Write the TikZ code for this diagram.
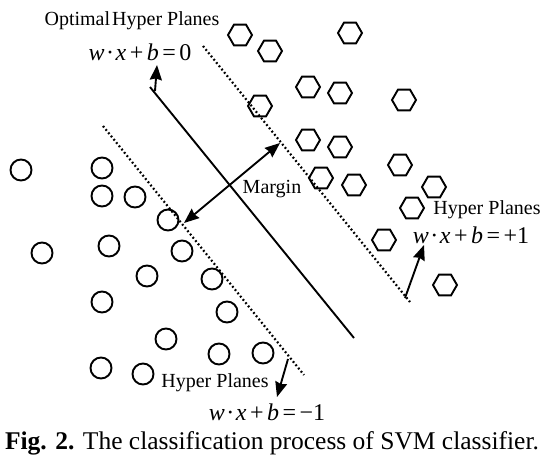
\documentclass[tikz,border=0pt]{standalone}
\usepackage{fontspec}
\setmainfont{Liberation Serif}
\usetikzlibrary{shapes.geometric,arrows.meta}
\tikzset{
  cls/.style={circle,draw,line width=1.9pt,minimum size=21pt,inner sep=0pt},
  hexa/.style={regular polygon,regular polygon sides=6,draw,line width=1.9pt,minimum size=24pt,inner sep=0pt},
  hplane/.style={line width=2.2pt,dash pattern=on 1.8pt off 2.4pt},
  optline/.style={line width=1.9pt},
  vec/.style={line width=1.9pt,-{Stealth[length=15pt,width=12pt,inset=1.5pt]}},
  lbl/.style={inner sep=0pt,font=\fontsize{20}{22}\selectfont},
  eqn/.style={inner sep=0pt,font=\fontsize{24}{26}\selectfont},
}
\newcommand{\wxb}{\textit{w}\kern1.5pt·\kern1.5pt\textit{x}\kern3.5pt+\kern3.5pt\textit{b}\kern3.5pt=\kern3.5pt}
\begin{document}
\begin{tikzpicture}[x=1pt,y=-1pt]
\useasboundingbox (0,0) rectangle (544,460);
% circles
\foreach \n/\p in {c1/{(21,170)},c2/{(102,168)},c3/{(102,196)},c4/{(135,197)},c5/{(168,220)},
  c6/{(42,253)},c7/{(109,246)},c8/{(182,251)},c9/{(147,276)},c10/{(212,279)},
  c11/{(102,302)},c12/{(227,312)},c13/{(166,339)},c14/{(219,354)},c15/{(263,353)},
  c16/{(101,368)},c17/{(143,374)}}
  \node[cls] (\n) at \p {};
% hexagons
\foreach \n/\p in {h1/{(240,35)},h2/{(270,51)},h3/{(350,33)},h4/{(260,106)},h5/{(308,87)},
  h6/{(340,93)},h7/{(404,100)},h8/{(308,140)},h9/{(340,147)},h10/{(400,165)},
  h11/{(321,178)},h12/{(354,185)},h13/{(434,187)},h14/{(412,208)},h15/{(384,240)},
  h16/{(445,285)}}
  \node[hexa] (\n) at \p {};
% hyperplanes
\coordinate (opA) at (150,87);
\coordinate (opB) at (354,338);
\coordinate (upA) at (203,46);
\coordinate (upB) at (410,302);
\coordinate (loA) at (103,126);
\coordinate (loB) at (304,375);
\draw[optline] (opA) -- (opB);
\draw[hplane] (upA) -- (upB);
\draw[hplane] (loA) -- (loB);
% normal vectors
\coordinate (n0s) at (155,91);
\coordinate (n0e) at (157,65);
\draw[vec] (n0s) -- (n0e);
\coordinate (n1s) at (405,298);
\coordinate (n1e) at (424,245);
\draw[vec] (n1s) -- (n1e);
\coordinate (n2s) at (288,359);
\coordinate (n2e) at (277,397);
\draw[vec] (n2s) -- (n2e);
% margin
\coordinate (mA) at (184,223);
\coordinate (mB) at (280,143);
\draw[line width=1.9pt,{Stealth[length=15pt,width=12pt,inset=1.5pt]}-{Stealth[length=15pt,width=12pt,inset=1.5pt]}] (mA) -- (mB);
% labels
\node[lbl] (t0) at (132,21) {Optimal\kern2pt Hyper Planes};
\node[eqn] (e0) at (140,52) {\wxb 0};
\node[lbl] (tm) at (272,189) {Margin};
\node[lbl] (t1) at (487,210) {Hyper Planes};
\node[eqn] (e1) at (471,235) {\wxb +1};
\node[lbl] (t2) at (215,383) {Hyper Planes};
\node[eqn] (e2) at (267,412) {\wxb −1};
\node[inner sep=0pt,font=\fontsize{25.5}{28}\selectfont] (cap) at (272,443) {\textbf{Fig. 2.} The classification process of SVM classifier.};
\end{tikzpicture}
\end{document}
